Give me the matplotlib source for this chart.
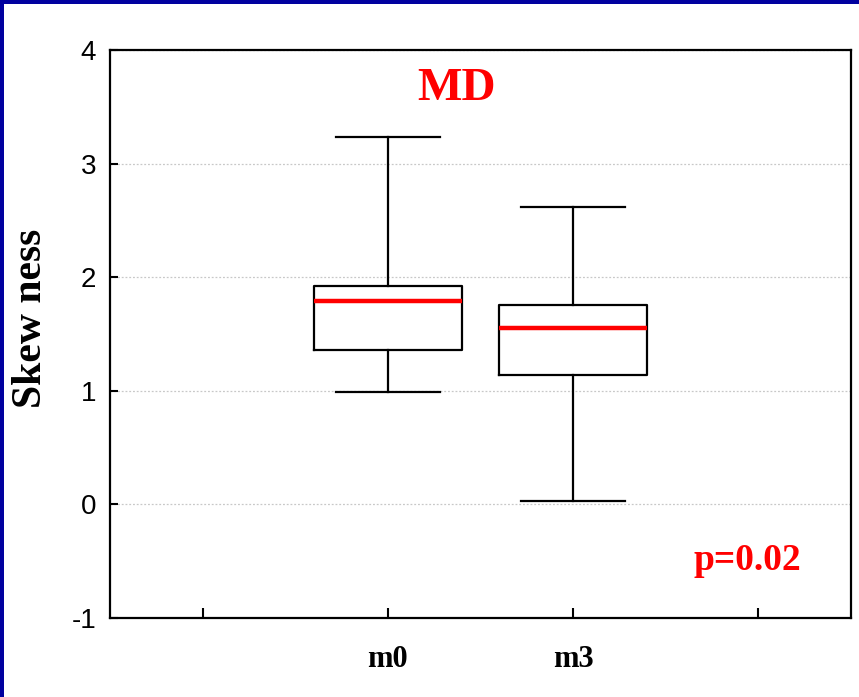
import matplotlib
matplotlib.use("Agg")
import matplotlib.pyplot as plt
from matplotlib.patches import Rectangle

groups = ["m0", "m3"]
whislo = [0.99, 0.03]
q1 = [1.36, 1.14]
med = [1.79, 1.55]
q3 = [1.92, 1.75]
whishi = [3.23, 2.62]

positions = [1.5, 2.5]
xticks = [0.5, 1.5, 2.5, 3.5]
xticklabels = ["", "m0", "m3", ""]
yticks = [-1, 0, 1, 2, 3, 4]

stats = []
for i in range(len(groups)):
    stats.append(dict(label=groups[i], whislo=whislo[i], q1=q1[i], med=med[i],
                      q3=q3[i], whishi=whishi[i], fliers=[]))

fig = plt.figure(figsize=(8.59, 6.97), dpi=100)
fig.patch.set_facecolor("white")
navy = "#00009F"
fig.patches.append(Rectangle((0, 1 - 4 / 697), 1, 4 / 697, transform=fig.transFigure,
                             facecolor=navy, edgecolor="none", zorder=10))
fig.patches.append(Rectangle((0, 0), 4 / 859, 1, transform=fig.transFigure,
                             facecolor=navy, edgecolor="none", zorder=10))

ax = fig.add_axes([0.128, 0.1138, 0.8627, 0.8145])

ax.bxp(stats, positions=positions, widths=0.8, capwidths=0.56, showfliers=False,
       boxprops=dict(color="black", linewidth=1.6),
       whiskerprops=dict(color="black", linewidth=1.6),
       capprops=dict(color="black", linewidth=1.6),
       medianprops=dict(color="red", linewidth=3.2))

ax.set_xlim(0, 4)
ax.set_ylim(-1, 4)
ax.set_yticks(yticks)
ax.set_yticklabels([str(v) for v in yticks], fontfamily="Liberation Sans", fontsize=20)
ax.set_xticks(xticks)
ax.set_xticklabels(xticklabels, fontfamily="Liberation Serif", fontweight="bold", fontsize=22)
ax.tick_params(axis="y", direction="in", length=6, width=1.5, pad=10)
ax.tick_params(axis="x", direction="in", length=7, width=1.5, pad=20)
for s in ax.spines.values():
    s.set_linewidth(1.6)

ax.yaxis.grid(True, linestyle=(0, (1.5, 1.5)), color="#c8c8c8", linewidth=0.9)
ax.set_axisbelow(True)

# y label placed by hand, it sits further right than the default
fig.text(31 / 859, 1 - 318 / 697, "Skew ness", rotation=90, ha="center", va="center",
         fontfamily="Liberation Serif", fontweight="bold", fontsize=30)

ax.text(1.87, 3.66, "MD", color="red", fontfamily="Liberation Serif", fontweight="bold",
        fontsize=34, ha="center", va="center")
ax.text(3.44, -0.5, "p=0.02", color="red", fontfamily="Liberation Serif", fontweight="bold",
        fontsize=27, ha="center", va="center")

fig.savefig("out.png", dpi=100)
